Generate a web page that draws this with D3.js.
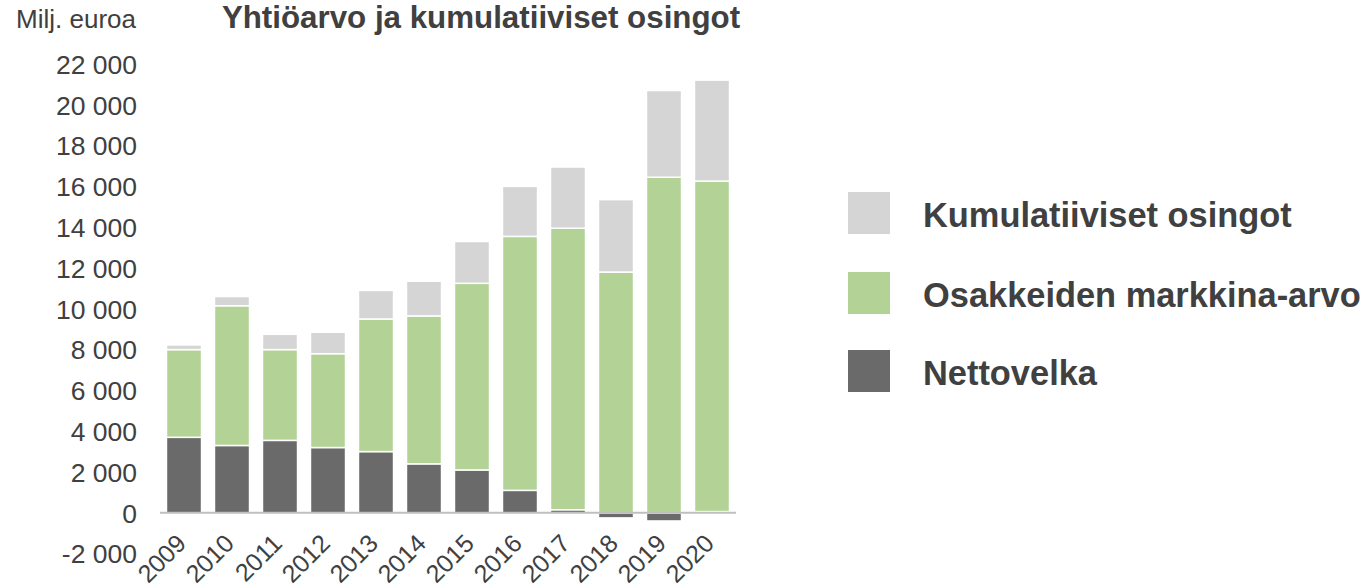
<!DOCTYPE html>
<html>
<head>
<meta charset="utf-8">
<script src="https://cdn.jsdelivr.net/npm/d3@7"></script>
<style>
  body { margin: 0; background: #fff; }
  text { font-family: "Liberation Sans", Arial, sans-serif; fill: #404040; }
</style>
</head>
<body>
<div class="chart"></div>
<script>
var years = ["2009", "2010", "2011", "2012", "2013", "2014", "2015", "2016", "2017", "2018", "2019", "2020"];
var nettovelka = [3700, 3300, 3550, 3200, 3000, 2400, 2100, 1100, 150, -250, -400, 60];
var markkinaArvo = [4300, 6850, 4450, 4600, 6500, 7250, 9150, 12450, 13800, 11800, 16450, 16200];
var osingot = [230, 450, 750, 1050, 1400, 1700, 2050, 2450, 3000, 3550, 4250, 4950];
var seriesNames = ["Nettovelka", "Osakkeiden markkina-arvo", "Kumulatiiviset osingot"];
var yTicks = [-2000, 0, 2000, 4000, 6000, 8000, 10000, 12000, 14000, 16000, 18000, 20000, 22000];

var svgWidth = 1368;
var svgHeight = 588;

var svg = d3.select(".chart")
  .append("svg")
  .attr("width", svgWidth)
  .attr("height", svgHeight);

var colors = {
  "Nettovelka": "#6a6a6a",
  "Osakkeiden markkina-arvo": "#b3d396",
  "Kumulatiiviset osingot": "#d5d5d5"
};

// build rows for the stack
var rows = years.map(function(y, i) {
  return {
    year: y,
    "Nettovelka": nettovelka[i],
    "Osakkeiden markkina-arvo": markkinaArvo[i],
    "Kumulatiiviset osingot": osingot[i]
  };
});

var stacked = d3.stack()
  .keys(seriesNames)
  .offset(d3.stackOffsetDiverging)(rows);

var x = d3.scaleBand()
  .domain(years)
  .range([160, 736])
  .paddingInner(0.27)
  .paddingOuter(0.135);

var y = d3.scaleLinear()
  .domain([-2000, 22000])
  .range([553.6, 64]);

var fmt = d3.formatLocale({ decimal: ",", thousands: "\u00a0", grouping: [3], currency: ["", "€"] })
  .format(",d");

// y axis labels, no line
var yAxis = svg.append("g")
  .attr("transform", "translate(137,0)")
  .call(d3.axisLeft(y).tickValues(yTicks).tickSize(0).tickPadding(0).tickFormat(function(d) {
    return fmt(d).replace("\u2212", "-");
  }));
yAxis.select(".domain").remove();
yAxis.selectAll("text")
  .style("font-size", "26.5px")
  .attr("fill", "#404040")
  .attr("dy", "0.35em");

// bars
svg.append("g")
  .selectAll("g")
  .data(stacked)
  .enter()
  .append("g")
  .attr("fill", function(d) { return colors[d.key]; })
  .selectAll("rect")
  .data(function(d) { return d; })
  .enter()
  .append("rect")
  .attr("x", function(d) { return x(d.data.year); })
  .attr("y", function(d) { return y(Math.max(d[0], d[1])); })
  .attr("height", function(d) { return Math.abs(y(d[0]) - y(d[1])); })
  .attr("width", x.bandwidth())
  .attr("stroke", "#fff")
  .attr("stroke-width", 1.5);

// x axis line at zero
svg.append("line")
  .attr("x1", 160)
  .attr("x2", 736)
  .attr("y1", y(0))
  .attr("y2", y(0))
  .attr("stroke", "#bfbfbf")
  .attr("stroke-width", 2);

// rotated year labels
svg.append("g")
  .selectAll("text")
  .data(years)
  .enter()
  .append("text")
  .attr("transform", function(d) {
    return "translate(" + (x(d) + x.bandwidth() / 2 + 3.5) + ",545) rotate(-45)";
  })
  .attr("text-anchor", "end")
  .style("font-size", "25px")
  .text(function(d) { return d; });

// title and unit
svg.append("text")
  .attr("x", 136)
  .attr("y", 28)
  .attr("text-anchor", "end")
  .style("font-size", "26px")
  .text("Milj. euroa");

svg.append("text")
  .attr("x", 481)
  .attr("y", 28)
  .attr("text-anchor", "middle")
  .style("font-weight", "bold")
  .style("font-size", "31.3px")
  .text("Yhtiöarvo ja kumulatiiviset osingot");

// legend
var legendItems = ["Kumulatiiviset osingot", "Osakkeiden markkina-arvo", "Nettovelka"];
var legendY = [192, 272, 350];
var legend = svg.append("g")
  .selectAll("g")
  .data(legendItems)
  .enter()
  .append("g")
  .attr("transform", function(d, i) { return "translate(848," + legendY[i] + ")"; });

legend.append("rect")
  .attr("width", 42)
  .attr("height", 42)
  .attr("fill", function(d) { return colors[d]; });

legend.append("text")
  .attr("x", 75)
  .attr("y", 21)
  .attr("dy", "0.4em")
  .style("font-size", "34.4px")
  .style("font-weight", "bold")
  .text(function(d) { return d; });
</script>
</body>
</html>
